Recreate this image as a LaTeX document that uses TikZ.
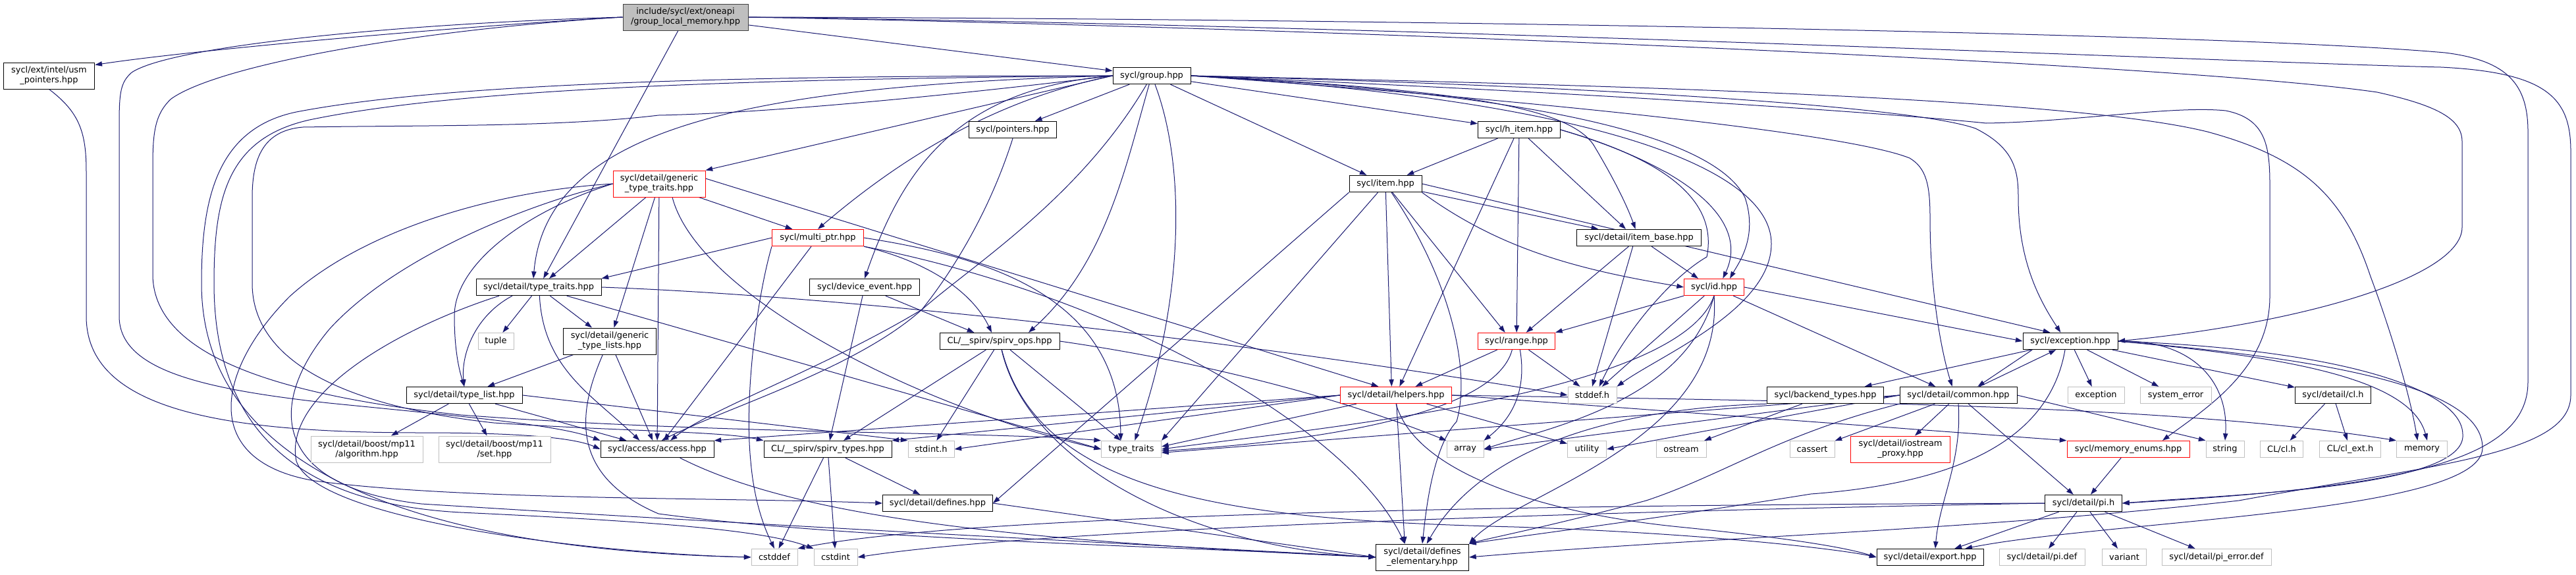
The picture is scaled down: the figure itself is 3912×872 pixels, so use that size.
\documentclass[tikz,border=0pt]{standalone}
\usepackage{fontspec}
\setmainfont{DejaVu Sans}
\usetikzlibrary{arrows.meta}
\pgfdeclarelayer{back}
\pgfdeclarelayer{wires}
\pgfsetlayers{back,wires,main}
\definecolor{edgeblue}{HTML}{191970}
\definecolor{boxgray}{HTML}{BFBFBF}
\definecolor{framegray}{HTML}{404040}
\newcommand{\dxfont}{\fontsize{9.7}{11.25}\selectfont}
\tikzset{
  file/.style={draw=black, line width=0.75pt, fill=white, font=\dxfont, align=center, inner sep=0pt, minimum height=19pt},
  sysfile/.style={file, draw=boxgray},
  cutfile/.style={file, draw=red},
  rootfile/.style={file, fill=boxgray, draw=framegray},
  twoline/.style={minimum height=30pt},
  dep/.style={draw=edgeblue, line width=0.75pt, -{Triangle[length=8pt,width=5.5pt]}}
}
\begin{document}
\begin{tikzpicture}[x=0.75pt, y=-0.75pt]
  \useasboundingbox (0,0) rectangle (3912,872);
  \begin{pgfonlayer}{back}
    \fill[white] (0,0) rectangle (3912,872);
  \end{pgfonlayer}

  \node[rootfile, twoline, minimum width=142.5pt] (root) at (1041,26) {include/sycl/ext/oneapi\\/group\_local\_memory.hpp};
  \node[file, twoline, minimum width=104pt] (usm) at (74.5,115) {sycl/ext/intel/usm\\\_pointers.hpp};
  \node[file, minimum width=88.5pt] (group) at (1749,115) {sycl/group.hpp};
  \node[file, minimum width=142.5pt] (dtt) at (818,436) {sycl/detail/type\_traits.hpp};
  \node[cutfile, twoline, minimum width=105pt] (gtt) at (1001,279) {sycl/detail/generic\\\_type\_traits.hpp};
  \node[file, minimum width=99.75pt] (ptrs) at (1538,197) {sycl/pointers.hpp};
  \node[cutfile, minimum width=104.25pt] (mptr) at (1242,361) {sycl/multi\_ptr.hpp};
  \node[file, minimum width=125.25pt] (devev) at (1313,436) {sycl/device\_event.hpp};
  \node[sysfile, minimum width=40.5pt] (tuple) at (753,518) {tuple};
  \node[file, twoline, minimum width=105.75pt] (gtl) at (926,518) {sycl/detail/generic\\\_type\_lists.hpp};
  \node[file, minimum width=132pt] (tlist) at (705,600) {sycl/detail/type\_list.hpp};
  \node[sysfile, twoline, minimum width=127.5pt] (mpalg) at (557,682) {sycl/detail/boost/mp11\\/algorithm.hpp};
  \node[sysfile, twoline, minimum width=127.5pt] (mpset) at (751,682) {sycl/detail/boost/mp11\\/set.hpp};
  \node[file, minimum width=129pt] (access) at (998,682) {sycl/access/access.hpp};
  \node[file, minimum width=136.5pt] (sops) at (1518,518) {CL/\_\_spirv/spirv\_ops.hpp};
  \node[file, minimum width=145.5pt] (stypes) at (1257,682) {CL/\_\_spirv/spirv\_types.hpp};
  \node[sysfile, minimum width=52.5pt] (stdinth) at (1414,682) {stdint.h};
  \node[sysfile, minimum width=68.25pt] (stdtt) at (1718,682) {type\_traits};
  \node[file, minimum width=125.25pt] (defs) at (1424,764) {sycl/detail/defines.hpp};
  \node[sysfile, minimum width=52.5pt] (cstddef) at (1176,846) {cstddef};
  \node[sysfile, minimum width=49.5pt] (cstdint) at (1269,846) {cstdint};
  \node[file, minimum width=93.75pt] (hitem) at (2307,197) {sycl/h\_item.hpp};
  \node[file, minimum width=82.5pt] (item) at (2104,279) {sycl/item.hpp};
  \node[file, minimum width=141.75pt] (ibase) at (2489,361) {sycl/detail/item\_base.hpp};
  \node[cutfile, minimum width=68.25pt] (id) at (2603,436) {sycl/id.hpp};
  \node[cutfile, minimum width=87.75pt] (range) at (2303,518) {sycl/range.hpp};
  \node[cutfile, minimum width=126.75pt] (helpers) at (2120,600) {sycl/detail/helpers.hpp};
  \node[sysfile, minimum width=55.5pt] (stddefh) at (2418,600) {stddef.h};
  \node[file, minimum width=132.75pt] (backend) at (2772,600) {sycl/backend\_types.hpp};
  \node[file, minimum width=133.5pt] (common) at (2974,600) {sycl/detail/common.hpp};
  \node[sysfile, minimum width=42pt] (array) at (2225,682) {array};
  \node[sysfile, minimum width=44.25pt] (utility) at (2410,682) {utility};
  \node[sysfile, minimum width=57pt] (ostream) at (2553,682) {ostream};
  \node[sysfile, minimum width=51pt] (cassert) at (2752,682) {cassert};
  \node[cutfile, twoline, minimum width=113.25pt] (iosp) at (2886,682) {sycl/detail/iostream\\\_proxy.hpp};
  \node[file, twoline, minimum width=105.75pt] (defel) at (2160,846) {sycl/detail/defines\\\_elementary.hpp};
  \node[file, minimum width=121.5pt] (export) at (2931,846) {sycl/detail/export.hpp};
  \node[file, minimum width=108pt] (excp) at (3144,518) {sycl/exception.hpp};
  \node[sysfile, minimum width=64.5pt] (stdexc) at (3183,600) {exception};
  \node[sysfile, minimum width=81pt] (syserr) at (3304,600) {system\_error};
  \node[file, minimum width=86.25pt] (clh) at (3543,600) {sycl/detail/cl.h};
  \node[cutfile, minimum width=139.5pt] (menums) at (3232,682) {sycl/memory\_enums.hpp};
  \node[sysfile, minimum width=43.5pt] (string) at (3379,682) {string};
  \node[sysfile, minimum width=48.75pt] (clcl) at (3465,682) {CL/cl.h};
  \node[sysfile, minimum width=69.75pt] (clext) at (3569,682) {CL/cl\_ext.h};
  \node[sysfile, minimum width=57.75pt] (memory) at (3678,682) {memory};
  \node[file, minimum width=87.75pt] (pih) at (3164,764) {sycl/detail/pi.h};
  \node[sysfile, minimum width=97.5pt] (pidef) at (3101,846) {sycl/detail/pi.def};
  \node[sysfile, minimum width=50.25pt] (variant) at (3226,846) {variant};
  \node[sysfile, minimum width=124.5pt] (pierr) at (3366,846) {sycl/detail/pi\_error.def};

  \begin{pgfonlayer}{wires}
  \draw[dep] (root.west) .. controls (700,40) and (300,75) .. ([yshift=-3pt]usm.north east);
  \draw[dep] (root) -- (group);
  \draw[dep] (root) -- (dtt);
  \draw[dep] (root.west) .. controls (600,36) and (260,70) .. (200,110) .. controls (183,125) and (181,140) .. (181,190) -- (181,480) .. controls (181,560) and (300,590) .. (500,612) .. controls (700,632) and (850,645) .. (access.north west);
  \draw[dep] (root.west) .. controls (620,46) and (330,100) .. (260,150) .. controls (236,172) and (232,200) .. (232,250) -- (232,420) .. controls (236,540) and (420,600) .. (700,630) .. controls (1100,660) and (1500,655) .. (stdtt.north west);
  \draw[dep] (root.east) .. controls (2000,42) and (3300,95) .. (3610,140) .. controls (3700,160) and (3739,180) .. (3739,215) -- (3739,345) .. controls (3739,420) and (3500,490) .. (excp.east);
  \draw[dep] (root.east) .. controls (2000,28) and (3350,48) .. (3713,80) .. controls (3810,92) and (3839,130) .. (3839,200) -- (3839,580) .. controls (3839,700) and (3650,740) .. (pih.east);
  \draw[dep] (root.east) .. controls (2200,40) and (3400,95) .. (3707,102) .. controls (3870,110) and (3904,150) .. (3904,230) -- (3904,600) .. controls (3904,690) and (3700,705) .. (3400,760) .. controls (3000,805) and (2600,815) .. (defel.east);

  \draw[dep] (usm.south) .. controls (120,170) and (131,200) .. (131,260) -- (131,480) .. controls (131,620) and (330,657) .. (640,657) .. controls (820,657) and (880,668) .. (access.west);

  \draw[dep] (group.west) -- (gtt.north east);
  \draw[dep] (group) -- (ptrs);
  \draw[dep] (group) -- (hitem);
  \draw[dep] (group) -- (item);
  \draw[dep] (group.west) .. controls (1520,150) and (1380,230) .. (mptr.north);
  \draw[dep] (group.west) .. controls (1450,135) and (1370,260) .. (devev.north);
  \draw[dep] (group.west) .. controls (1150,130) and (830,190) .. ([xshift=-6pt]dtt.north);
  \draw[dep] (group) .. controls (1640,300) and (1480,400) .. (1400,470) .. controls (1250,560) and (1080,620) .. ([xshift=15pt]access.north);
  \draw[dep] (group) .. controls (1800,250) and (1800,450) .. ([xshift=4pt]stdtt.north);
  \draw[dep] (group) .. controls (1710,250) and (1680,400) .. ([xshift=33pt]sops.north);
  \draw[dep] (group.west) .. controls (1400,150) and (1150,172) .. (1000,175) .. controls (850,193) and (650,190) .. (460,193) .. controls (400,198) and (383,240) .. (383,300) -- (383,430) .. controls (383,560) and (550,620) .. (750,642) .. controls (950,655) and (1100,655) .. (stypes.north west);
  \draw[dep] (group.west) .. controls (1200,115) and (700,122) .. (450,170) .. controls (330,195) and (306,300) .. (306,430) .. controls (306,720) and (650,835) .. (cstddef.west);
  \draw[dep] (group.west) .. controls (1200,120) and (720,130) .. (470,182) .. controls (345,210) and (325,300) .. (325,430) .. controls (325,650) and (450,765) .. (700,778) .. controls (1000,792) and (1160,805) .. (cstdint.north west);
  \draw[dep] (group.east) .. controls (2400,130) and (2900,160) .. (3000,195) .. controls (3060,225) and (3065,260) .. (3065,300) .. controls (3065,400) and (3100,460) .. ([xshift=-11pt]excp.north);
  \draw[dep] (group.east) .. controls (2400,140) and (2850,170) .. (3016,187) .. controls (3150,185) and (3300,160) .. (3380,168) .. controls (3440,180) and (3447,220) .. (3447,280) -- (3447,450) .. controls (3447,560) and (3350,620) .. ([xshift=39pt]menums.north);
  \draw[dep] (group.east) .. controls (2500,130) and (3150,150) .. (3352,200) .. controls (3500,240) and (3560,300) .. (3600,420) .. controls (3630,500) and (3660,600) .. ([xshift=-5pt]memory.north);
  \draw[dep] (group.east) .. controls (2300,150) and (2800,200) .. (2900,240) .. controls (2925,255) and (2931,280) .. (2931,330) .. controls (2931,450) and (2950,540) .. ([xshift=-7pt]common.north);
  \draw[dep] (group.east) .. controls (2300,140) and (2600,200) .. (2650,300) .. controls (2670,360) and (2640,400) .. ([xshift=18pt]id.north);
  \draw[dep] (group.east) .. controls (2200,135) and (2380,160) .. (2420,220) .. controls (2450,270) and (2470,310) .. ([xshift=-4pt]ibase.north);
  \draw[dep] (group.east) .. controls (2400,150) and (2690,250) .. (2690,370) .. controls (2690,470) and (2520,540) .. (stddefh.north east);

  \draw[dep] ([xshift=-15pt]gtt.south) -- ([xshift=12pt]dtt.north);
  \draw[dep] (gtt) -- (gtl);
  \draw[dep] (gtt) -- (mptr);
  \draw[dep] (gtt) -- (access);
  \draw[dep] ([xshift=15pt]gtt.south) .. controls (1060,450) and (1400,620) .. (stdtt.west);
  \draw[dep] ([yshift=6pt]gtt.east) -- ([xshift=-20pt]helpers.north);
  \draw[dep] (gtt.west) .. controls (750,290) and (550,350) .. (440,450) .. controls (330,560) and (300,700) .. (478,730) .. controls (700,760) and (1100,755) .. (defs.west);
  \draw[dep] (gtt.west) .. controls (800,310) and (600,390) .. (500,500) .. controls (400,620) and (420,740) .. (640,765) .. controls (1200,800) and (1800,830) .. (defel.west);
  \draw[dep] (gtt.west) .. controls (800,320) and (690,400) .. (690,480) .. controls (690,540) and (700,570) .. (tlist.north);

  \draw[dep] (dtt) -- (tuple);
  \draw[dep] (dtt) -- (gtl);
  \draw[dep] ([xshift=-30pt]dtt.south) .. controls (720,480) and (700,540) .. (tlist.north);
  \draw[dep] ([xshift=1pt]dtt.south) .. controls (825,560) and (900,600) .. ([xshift=-20pt]access.north);
  \draw[dep] (dtt.east) .. controls (1300,450) and (1900,520) .. (stddefh.west);
  \draw[dep] ([xshift=32pt]dtt.south) -- (stdtt.west);
  \draw[dep] ([xshift=-45pt]dtt.south) .. controls (600,500) and (430,600) .. (450,700) .. controls (480,790) and (900,840) .. (cstddef.west);

  \draw[dep] (gtl) -- (tlist);
  \draw[dep] (gtl) -- ([xshift=-5pt]access.north);
  \draw[dep] ([xshift=-8pt]gtl.south) .. controls (880,620) and (860,720) .. (1000,780) .. controls (1300,820) and (1800,830) .. (defel.west);

  \draw[dep] (tlist) -- (mpalg);
  \draw[dep] (tlist) -- (mpset);
  \draw[dep] (tlist) -- ([xshift=-35pt]access.north);
  \draw[dep] (tlist.east) -- (stdinth.north west);

  \draw[dep] ([xshift=26pt]access.south) .. controls (1200,780) and (1500,820) .. (defel.west);
  \draw[dep] (ptrs.south) .. controls (1500,330) and (1440,420) .. (1400,470) .. controls (1300,560) and (1100,620) .. ([xshift=5pt]access.north);

  \draw[dep] (mptr.west) -- (dtt.north east);
  \draw[dep] (mptr) -- (access);
  \draw[dep] (mptr.south west) .. controls (1150,450) and (1130,600) .. (1140,700) .. controls (1145,760) and (1160,800) .. (cstddef.north);
  \draw[dep] (mptr.south east) .. controls (1420,400) and (1480,450) .. ([xshift=-9pt]sops.north);
  \draw[dep] (mptr.east) .. controls (1500,390) and (1700,450) .. ([xshift=-12pt]stdtt.north);
  \draw[dep] (mptr.south east) .. controls (1700,450) and (2050,650) .. ([xshift=-20pt]defel.north);

  \draw[dep] (devev) -- ([xshift=-29pt]sops.north);
  \draw[dep] (devev) -- (stypes);

  \draw[dep] (sops) -- ([xshift=18pt]stypes.north);
  \draw[dep] (sops) -- (stdinth);
  \draw[dep] (sops) -- (stdtt);
  \draw[dep] (sops.east) .. controls (1900,560) and (2100,630) .. (array.north west);
  \draw[dep] (sops) .. controls (1560,700) and (1800,830) .. (defel.west);
  \draw[dep] (sops) .. controls (1580,760) and (1900,790) .. (2300,800) .. controls (2600,810) and (2800,835) .. (export.west);

  \draw[dep] (stypes) -- (defs);
  \draw[dep] (stypes) -- (cstddef);
  \draw[dep] (stypes) -- (cstdint);
  \draw[dep] (defs.east) -- (defel.west);

  \draw[dep] (hitem) -- (item);
  \draw[dep] (hitem) -- ([xshift=-15pt]ibase.north);
  \draw[dep] (hitem.east) .. controls (2550,250) and (2660,330) .. ([xshift=10pt]id.north);
  \draw[dep] (hitem) -- (range);
  \draw[dep] ([xshift=-6pt]hitem.south) -- ([xshift=4pt]helpers.north);
  \draw[dep] (hitem.east) .. controls (2520,240) and (2610,300) .. (2592,390) .. controls (2540,420) and (2470,500) .. ([xshift=8pt]stddefh.north);

  \draw[dep] (item) -- (ibase);
  \draw[dep] (item.south east) .. controls (2280,380) and (2400,410) .. (id.west);
  \draw[dep] (item.east) -- ([xshift=-23pt]excp.north);
  \draw[dep] (item) -- ([xshift=-13pt]range.north);
  \draw[dep] (item) -- ([xshift=-5pt]helpers.north);
  \draw[dep] (item) -- (stdtt.north east);
  \draw[dep] (item.south west) -- (defs.east);
  \draw[dep] (item) .. controls (2200,420) and (2235,560) .. (2212,640) .. controls (2175,680) and (2165,780) .. (defel.north);

  \draw[dep] (ibase) -- ([xshift=-18pt]id.north);
  \draw[dep] (ibase) -- ([xshift=11pt]range.north);
  \draw[dep] ([xshift=-7pt]ibase.south) -- (stddefh.north);

  \draw[dep] (id.south west) -- (range.north east);
  \draw[dep] (id) -- (stddefh);
  \draw[dep] (id) -- ([xshift=-26pt]common.north);
  \draw[dep] (id.east) -- (excp.west);
  \draw[dep] (id.south) .. controls (2550,600) and (2000,650) .. (stdtt.east);
  \draw[dep] (id.south) .. controls (2560,610) and (2350,650) .. (array.east);
  \draw[dep] (id.south) .. controls (2620,670) and (2300,750) .. (defel.north east);

  \draw[dep] (range) -- (helpers);
  \draw[dep] (range) -- (stddefh);
  \draw[dep] ([xshift=4pt]range.south) .. controls (2320,600) and (2290,640) .. (array.north east);
  \draw[dep] ([xshift=-5pt]range.south) .. controls (2270,630) and (2000,670) .. ([yshift=-2pt]stdtt.east);

  \draw[dep] (helpers.west) -- (access.north east);
  \draw[dep] (helpers.west) -- (stypes.north east);
  \draw[dep] (helpers.west) -- (stdinth.east);
  \draw[dep] (helpers) -- ([yshift=3pt]stdtt.east);
  \draw[dep] (helpers) -- (utility);
  \draw[dep] (helpers.east) .. controls (2800,610) and (3300,615) .. (memory.north west);
  \draw[dep] (helpers.east) -- (menums.north west);
  \draw[dep] (helpers.south) .. controls (2150,720) and (2350,780) .. (2550,800) .. controls (2700,815) and (2800,830) .. (export.west);
  \draw[dep] (helpers) -- ([xshift=-20pt]defel.north);

  \draw[dep] (backend) -- (ostream);
  \draw[dep] (backend.south west) .. controls (2450,620) and (2250,680) .. ([xshift=5pt]defel.north);

  \draw[dep] (common) -- (iosp);
  \draw[dep] (common) -- (cassert);
  \draw[dep] (common) -- (pih);
  \draw[dep] (common.south) .. controls (2980,700) and (2945,760) .. ([xshift=6pt]export.north);
  \draw[dep] (common.east) -- (string.north west);
  \draw[dep] (common.west) -- ([yshift=-4pt]stdtt.east);
  \draw[dep] (common.west) -- (array.east);
  \draw[dep] (common.west) -- (utility.east);
  \draw[dep] (common.south west) .. controls (2700,660) and (2620,720) .. (2500,760) .. controls (2350,800) and (2270,815) .. (defel.north east);

  \draw[dep] (excp) -- (stdexc);
  \draw[dep] (excp) -- (syserr);
  \draw[dep] (excp) -- (clh);
  \draw[dep] ([xshift=11pt]excp.south west) -- ([xshift=22pt]common.north);
  \draw[dep] ([xshift=24pt]common.north) -- ([xshift=38pt]excp.south west);
  \draw[dep] (excp) -- (backend);
  \draw[dep] (excp.east) .. controls (3330,515) and (3385,580) .. (string.north);
  \draw[dep] (excp.east) .. controls (3450,540) and (3660,570) .. ([xshift=6pt]memory.north);
  \draw[dep] (excp.east) .. controls (3550,530) and (3740,590) .. (3740,660) .. controls (3745,740) and (3400,750) .. (pih.east);
  \draw[dep] (excp.east) .. controls (3600,550) and (3770,600) .. (3770,680) .. controls (3770,780) and (3200,790) .. ([xshift=40pt]export.north);
  \draw[dep] ([xshift=-6pt]excp.south) .. controls (3110,680) and (2950,735) .. (2750,750) .. controls (2500,790) and (2300,815) .. (defel.north east);

  \draw[dep] (clh) -- (clcl);
  \draw[dep] (clh) -- (clext);
  \draw[dep] (menums) -- (pih);
  \draw[dep] (pih) -- (export);
  \draw[dep] (pih) -- (pidef);
  \draw[dep] (pih) -- (variant);
  \draw[dep] (pih) -- (pierr);
  \draw[dep] (pih.west) .. controls (2500,766) and (1500,775) .. (cstddef.north east);
  \draw[dep] (pih.west) .. controls (2500,775) and (1600,800) .. (cstdint.east);
  \end{pgfonlayer}
\end{tikzpicture}
\end{document}
